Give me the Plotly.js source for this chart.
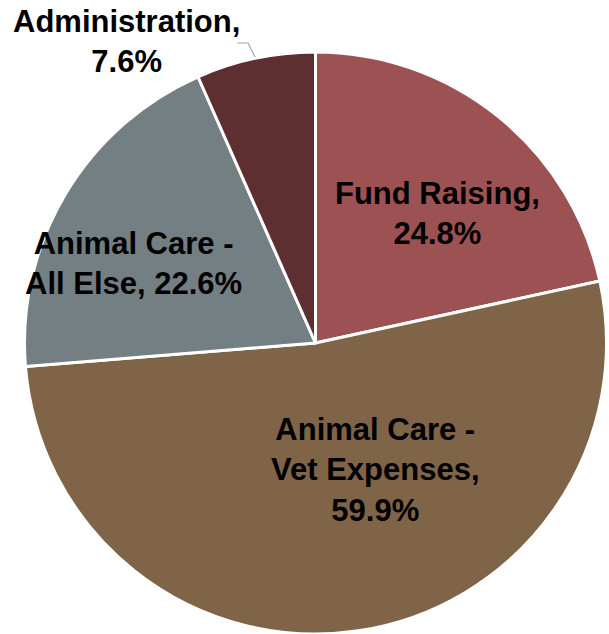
<!DOCTYPE html>
<html>
<head>
<meta charset="utf-8">
<script src="https://cdn.plot.ly/plotly-3.0.1.min.js"></script>
<style>html,body{margin:0;padding:0;background:#fff;}#chart{width:609px;height:634px;}</style>
</head>
<body>
<div id="chart"></div>
<script>
// Data
var categories = ["Fund Raising", "Animal Care - Vet Expenses", "Animal Care - All Else", "Administration"];
var values = [24.8, 59.9, 22.6, 7.6];
var labelNames = ["Fund Raising,", "Animal Care -<br>Vet Expenses,", "Animal Care -<br>All Else,", "Administration,"];
var labelBreak = ["<br>", "<br>", " ", "<br>"];
var colors = ["#9C5253", "#7F6447", "#737F83", "#5E2F30"];

// Label placements (paper coordinates)
var labelPos = [[0.7184, 0.664], [0.6158, 0.2587], [0.2184, 0.5836], [0.2085, 0.9353]];

var trace = {
  type: "pie",
  labels: categories,
  values: values,
  sort: false,
  direction: "clockwise",
  rotation: 0,
  textinfo: "none",
  hoverinfo: "label+value",
  marker: { colors: colors, line: { color: "#FFFFFF", width: 3 } },
  domain: { x: [0.0402, 0.9959], y: [0, 0.918] },
  showlegend: false
};

var annotations = categories.map(function (c, i) {
  return {
    xref: "paper", yref: "paper",
    x: labelPos[i][0], y: labelPos[i][1],
    xanchor: "center", yanchor: "middle",
    text: labelNames[i] + labelBreak[i] + values[i].toFixed(1) + "%",
    showarrow: false,
    align: "center",
    font: { family: "Arial, 'Liberation Sans', sans-serif", size: 31, color: "#000000", weight: "bold" }
  };
});

var layout = {
  width: 609, height: 634,
  margin: { l: 0, r: 0, t: 0, b: 0 },
  paper_bgcolor: "#FFFFFF",
  annotations: annotations,
  shapes: [{
    type: "path", xref: "paper", yref: "paper",
    path: "M 0.3892 0.9322 L 0.4072 0.9322 L 0.4187 0.9101",
    line: { color: "#A6A6A6", width: 1.2 }
  }]
};

Plotly.newPlot("chart", [trace], layout, { displayModeBar: false, staticPlot: true });
</script>
</body>
</html>
